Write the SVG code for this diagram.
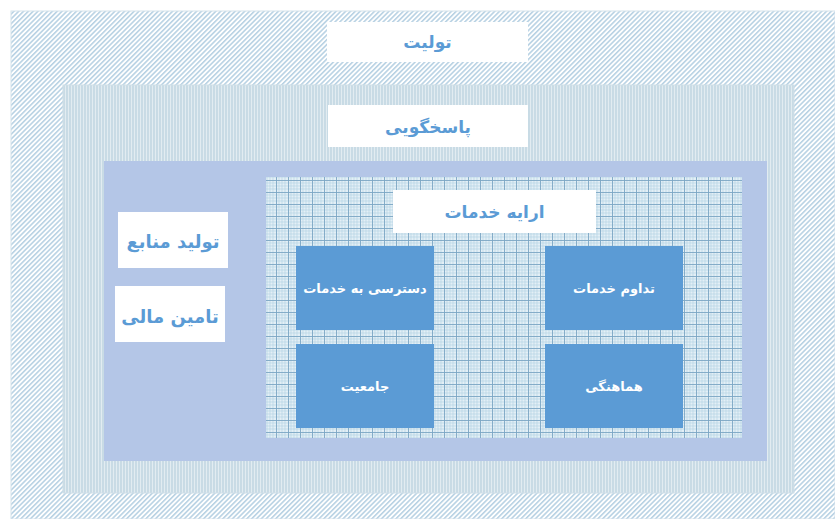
<svg xmlns="http://www.w3.org/2000/svg" width="835" height="519" viewBox="0 0 835 519">
<style>
.wbox{fill:#ffffff}
.bbox{fill:#5b9bd5}
.wt{font-family:"DejaVu Sans",sans-serif;font-weight:bold;fill:#5b9bd5;text-anchor:middle;dominant-baseline:central}
.bt{font-family:"DejaVu Sans",sans-serif;font-weight:bold;fill:#ffffff;text-anchor:middle;dominant-baseline:central;font-size:13px}
</style>
<defs>
<pattern id="diag" width="3.4" height="3.4" patternUnits="userSpaceOnUse" patternTransform="rotate(45)">
<rect width="3.4" height="3.4" fill="#ffffff"/>
<line x1="0.8" y1="0" x2="0.8" y2="3.4" stroke="#a8c8de" stroke-width="1.3"/>
</pattern>
<pattern id="vert" width="3" height="3" patternUnits="userSpaceOnUse">
<rect width="3" height="3" fill="#e2ecf1"/>
<line x1="1" y1="0" x2="1" y2="3" stroke="#b4cedc" stroke-width="1.1"/>
</pattern>
<pattern id="grid" width="12" height="12" patternUnits="userSpaceOnUse">
<rect width="12" height="12" fill="#e3eff6"/>
<path d="M3 0V12M6 0V12M9 0V12M0 3H12M0 6H12M0 9H12" stroke="#b5d2e4" stroke-width="0.7"/>
<path d="M0.5 0V12M0 0.5H12" stroke="#7aa6c4" stroke-width="0.9"/>
</pattern>
</defs>
<g id="frame-tolyat">
<rect x="11" y="11" width="824" height="508" fill="url(#diag)" stroke="#d6e3ec" stroke-width="1"/>
<rect class="wbox" x="327" y="22" width="201" height="40"/>
<text class="wt" x="427.5" y="42" font-size="17">تولیت</text>
</g>
<g id="frame-pasokhgooyi">
<rect x="63" y="85" width="731" height="408" fill="url(#vert)" stroke="#d0dfe8" stroke-width="1"/>
<rect class="wbox" x="328" y="105" width="200" height="42"/>
<text class="wt" x="428" y="127" font-size="17">پاسخگویی</text>
</g>
<g id="frame-inner">
<rect x="104" y="161" width="663" height="300" fill="#b4c6e7"/>
</g>
<g id="node-tolid-manabe">
<rect class="wbox" x="118" y="212" width="110" height="56"/>
<text class="wt" x="173" y="241" font-size="18">تولید منابع</text>
</g>
<g id="node-tamin-mali">
<rect class="wbox" x="115" y="286" width="110" height="56"/>
<text class="wt" x="170" y="316" font-size="18">تامین مالی</text>
</g>
<g id="frame-erae-khadamat">
<rect x="266" y="177" width="476" height="261" fill="url(#grid)"/>
<rect class="wbox" x="393" y="190" width="203" height="43"/>
<text class="wt" x="494.5" y="212" font-size="17">ارایه خدمات</text>
</g>
<g id="node-dastresi">
<rect class="bbox" x="296" y="246" width="138" height="84"/>
<text class="bt" x="365" y="288">دسترسی به خدمات</text>
</g>
<g id="node-tadavom">
<rect class="bbox" x="545" y="246" width="138" height="84"/>
<text class="bt" x="614" y="288">تداوم خدمات</text>
</g>
<g id="node-jameiat">
<rect class="bbox" x="296" y="344" width="138" height="84"/>
<text class="bt" x="365" y="386">جامعیت</text>
</g>
<g id="node-hamahangi">
<rect class="bbox" x="545" y="344" width="138" height="84"/>
<text class="bt" x="614" y="386">هماهنگی</text>
</g>
<g id="connectors"></g>
</svg>
